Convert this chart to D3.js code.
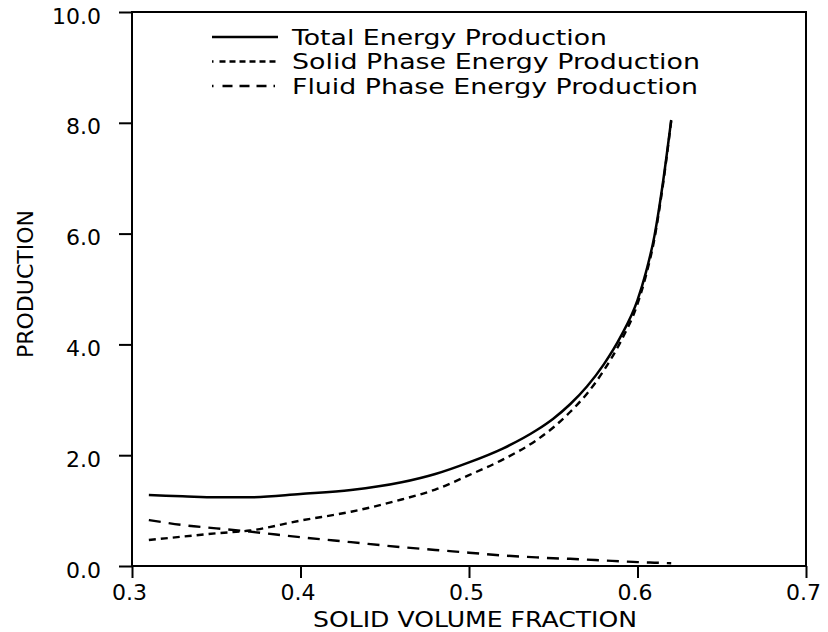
<!DOCTYPE html>
<html>
<head>
<meta charset="utf-8">
<script src="https://cdn.jsdelivr.net/npm/d3@7"></script>
<style>
    body { margin: 0; background: #fff; }
    svg text { font-family: "DejaVu Sans", sans-serif; fill: #000; }
</style>
</head>
<body>
<div id="chart"></div>
<script>

// solid volume fraction (x)
var fraction = [0.31, 0.33, 0.35, 0.37, 0.40, 0.43, 0.46, 0.48, 0.50, 0.52, 0.54, 0.55, 0.56, 0.57, 0.58, 0.59, 0.60, 0.605, 0.61, 0.615, 0.62];

// production values
var totalEnergy = [1.28, 1.26, 1.24, 1.24, 1.30, 1.37, 1.51, 1.66, 1.87, 2.12, 2.45, 2.66, 2.92, 3.24, 3.64, 4.14, 4.80, 5.30, 5.95, 6.90, 8.05];
var solidEnergy = [0.47, 0.53, 0.59, 0.64, 0.82, 0.98, 1.20, 1.38, 1.64, 1.92, 2.27, 2.50, 2.78, 3.11, 3.53, 4.05, 4.73, 5.24, 5.90, 6.86, 8.03];
var fluidEnergy = [0.83, 0.74, 0.68, 0.62, 0.52, 0.43, 0.34, 0.29, 0.24, 0.19, 0.155, 0.14, 0.13, 0.115, 0.10, 0.085, 0.07, 0.065, 0.06, 0.055, 0.05];

var xTicks = [0.3, 0.4, 0.5, 0.6, 0.7];
var yTicks = [0, 2, 4, 6, 8, 10];

var seriesNames = ["Total Energy Production", "Solid Phase Energy Production", "Fluid Phase Energy Production"];

var vis = {};
vis.margin = {top: 12, right: 22, bottom: 66, left: 132};
vis.width = 828 - vis.margin.left - vis.margin.right;
vis.height = 632 - vis.margin.top - vis.margin.bottom;

vis.svg = d3.select("#chart").append("svg")
    .attr("width", 828)
    .attr("height", 632);

vis.g = vis.svg.append("g")
    .attr("transform", "translate(" + vis.margin.left + "," + vis.margin.top + ")");

vis.x = d3.scaleLinear()
    .domain([0.3, 0.7])
    .range([0, vis.width]);

vis.y = d3.scaleLinear()
    .domain([0, 10])
    .range([vis.height, 0]);

// axes
var xAxis = vis.g.append("g")
    .attr("transform", "translate(0," + vis.height + ")")
    .call(d3.axisBottom(vis.x).tickValues(xTicks).tickSize(12).tickSizeOuter(0).tickPadding(6)
        .tickFormat(d3.format(".1f")));
xAxis.select(".domain").remove();
xAxis.selectAll("line").attr("stroke-width", 2);
xAxis.selectAll("text").attr("dx", "-3").style("font-size", "22px");

var yAxis = vis.g.append("g")
    .call(d3.axisLeft(vis.y).tickValues(yTicks).tickSize(13).tickSizeOuter(0).tickPadding(18)
        .tickFormat(d3.format(".1f")));
yAxis.select(".domain").remove();
yAxis.selectAll("line").attr("stroke-width", 2);
yAxis.selectAll("text").attr("dy", "0.5em").style("font-size", "22px");

// frame
vis.g.append("rect")
    .attr("x", 0)
    .attr("y", 0)
    .attr("width", vis.width)
    .attr("height", vis.height)
    .attr("fill", "none")
    .attr("stroke", "#000")
    .attr("stroke-width", 2);

// axis titles
vis.svg.append("text")
    .attr("x", 475)
    .attr("y", 627)
    .attr("text-anchor", "middle")
    .attr("textLength", 324)
    .attr("lengthAdjust", "spacingAndGlyphs")
    .style("font-size", "22px")
    .text("SOLID VOLUME FRACTION");

vis.svg.append("text")
    .attr("transform", "translate(33,284) rotate(-90)")
    .attr("text-anchor", "middle")
    .attr("textLength", 148)
    .attr("lengthAdjust", "spacingAndGlyphs")
    .style("font-size", "22px")
    .text("PRODUCTION");

// curves
var styles = [
    {values: totalEnergy, dash: null, width: 2.5},
    {values: solidEnergy, dash: "7,5", width: 2.4},
    {values: fluidEnergy, dash: "12,8", width: 2.4}
];

var line = d3.line()
    .curve(d3.curveMonotoneX)
    .x(function(d) { return vis.x(d[0]); })
    .y(function(d) { return vis.y(d[1]); });

styles.forEach(function(s) {
    vis.g.append("path")
        .datum(fraction.map(function(f, i) { return [f, s.values[i]]; }))
        .attr("d", line)
        .attr("fill", "none")
        .attr("stroke", "#000")
        .attr("stroke-width", s.width)
        .attr("stroke-dasharray", s.dash);
});

// legend
var legendLen = [315, 408, 406];
var legend = vis.svg.append("g");
seriesNames.forEach(function(name, i) {
    var yy = 37 + i * 24.5;
    legend.append("line")
        .attr("x1", 212)
        .attr("x2", 278)
        .attr("y1", yy)
        .attr("y2", yy)
        .attr("stroke", "#000")
        .attr("stroke-width", styles[i].width)
        .attr("stroke-dasharray", i == 0 ? null : (i == 1 ? "1.5,6,6,4,6,4,6,4,6,4,6,4,6,4" : "1.5,9,10,7,10,7,10,7"));
    legend.append("text")
        .attr("x", 292)
        .attr("y", yy + 7.5)
        .attr("textLength", legendLen[i])
        .attr("lengthAdjust", "spacingAndGlyphs")
        .style("font-size", "21px")
        .text(name);
});

</script>
</body>
</html>
